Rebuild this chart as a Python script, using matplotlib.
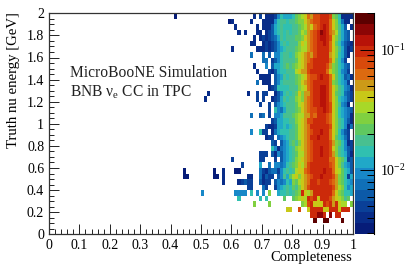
import matplotlib
matplotlib.use('Agg')
import matplotlib.pyplot as plt
import numpy as np
from matplotlib.colors import ListedColormap, LogNorm
from matplotlib.ticker import LogLocator, MultipleLocator, FixedLocator, NullFormatter

plt.rcParams['font.family'] = ['Liberation Serif', 'DejaVu Serif']
plt.rcParams['mathtext.fontset'] = 'stix'
plt.rcParams['mathtext.default'] = 'regular'

# Colour band of each cell. a = lowest band, t = highest.
# One row per energy bin (2.0 GeV at top), groups of ten completeness bins from 0.60 to 1.00
band_rows = [
    ".......b.c .bbbcfhggg hjklmonppq qqpkjhbbbb",
    "b.....b... bbbbfhiihi ijkkmnoppq qqomkhebb.",
    ".b......b. bbbdghihhh iijklnmopq rqomkigd.b",
    "..b.b...bb .bcdghihih iijlknopqs rqonliged.",
    ".......b.b cbcdegihii ijjkmnopqr rqpmkiged.",
    "......bb.. bcbcdfhihi iikmlnopqq rqomjhfdcb",
    "b.......bb bcbcdfghii ijkllnopqq qqomkigdbc",
    "......e... e.d.ffhiih iklmnonpqq qqnmkhgdb.",
    ".......... ee.cdfhiii ijlmnopqqq qqomjhfc..",
    ".......b.. .f.dgghiji jklmnppqqq qpnkjhged.",
    "........b. ..cbdghhii ilmnnpqqqq qomkjhfec.",
    ".........b bbb.dfgihi ijklmoppqr qqomjhgdeb",
    "........e. bbb.dfhiii ijkmnopqqq qqokjhgfc.",
    ".......... ..bcdhhhhi iiklmopqqr rqomkihfeb",
    ".....b..c. cc..bdfhih ijmknnpqqr rqomjihedc",
    "........c. c..bcdgihi iklknopqqr rqomkhgfdc",
    ".........c ..c.dfghii ijlmnopqqr rqpmkifeb.",
    ".......... ..c.hfegii ijkmnoppqq rqpmkhgfed",
    "......e..d e.c.ffgiii jkllnnpoqq qpomkhgfeb",
    ".......... ...cdgghhi iklmnppqqq qpomkihfdb",
    ".......... .cbbcgghgh ijlmnoqqqq qqpmkihfbe",
    "......f..h cc.beghhhi ijlmnopqqr qqomkhfdc.",
    ".......... .bcc.efghi ijlmnoqqrq qqomjhgec.",
    ".......... ...dc.dfgi jikmnopqqq qqpnkjhfbc",
    ".......... ...hfbefgh iklmnopqqr qqpmkihfdc",
    ".........c cc.dbfdfgh ijllnopqqr qqpnkihgdb",
    "c........c c...c.dfgh iklmnopqqq qqoomkjhcd",
    "...c.....g ..e.ffefhi jkmlnpqqqq qqpomkigfd",
    ".aa......e cbdeecfhih ilmmopqqqq rqqomljhgd",
    ".....bb..e bdcc.dfigj lmkmnopqqr qqqpnkjhcg",
    "..bcdcc..d bcc.dfefhg kjlmnoqqpq qqponkjhgf",
    ".....cc... ec..cfghih jikmnpqqqq qqqpnlkhfg",
    ".ffff.h.f. f.k..ghhih ijkqmlnqqq qqqomkjhhg",
    "..h......h .h.....j.. jklmlqpqmq qqpnmlkij.",
    ".......k.. ..k....... ...klpqmmm qpqnqmll.k",
    ".......... ........mm ..p..mqqqq mmqqqmqqq.",
    ".......... .......... ......qqss q.s.qq....",
    ".......... .......... .......t.. tt....t...",
    ".......... .......... .......... ..........",
    ".......... .......... .......... ..........",
]

# Fraction per band, a to t
band_values = [0.00325, 0.00401, 0.00495, 0.00611, 0.00755, 0.00932, 0.0115, 0.0142, 0.0175, 0.0217,
               0.0268, 0.0330, 0.0408, 0.0504, 0.0622, 0.0768, 0.0948, 0.117, 0.145, 0.178]
band_colors = ['#061c78', '#082c88', '#0a4098', '#0c5aa8', '#1070b8', '#1888c8', '#20a8c8', '#30c0b0',
               '#48c090', '#60c860', '#80d040', '#a8d828', '#c8c818', '#cc9a18', '#dc6a10', '#d84a0c',
               '#cc2a0a', '#b81208', '#8c0505', '#5c0000']

# Isolated cells left of 0.60
far_completeness = [0.415, 0.595, 0.515, 0.525, 0.445, 0.445, 0.455, 0.545, 0.545, 0.555, 0.575, 0.575, 0.575, 0.505]
far_energy = [1.975, 1.925, 1.225, 1.275, 0.575, 0.525, 0.525, 0.575, 0.525, 0.525, 0.575, 0.525, 0.475, 0.375]
far_value = [0.00325, 0.00325, 0.00401, 0.00401, 0.00325, 0.00325, 0.00325, 0.00325, 0.00325, 0.00325,
             0.00401, 0.00401, 0.00401, 0.00932]

x_ticks = [0, 0.1, 0.2, 0.3, 0.4, 0.5, 0.6, 0.7, 0.8, 0.9, 1]
x_labels = ['0', '0.1', '0.2', '0.3', '0.4', '0.5', '0.6', '0.7', '0.8', '0.9', '1']
y_ticks = [0, 0.2, 0.4, 0.6, 0.8, 1, 1.2, 1.4, 1.6, 1.8, 2]
y_labels = ['0', '0.2', '0.4', '0.6', '0.8', '1', '1.2', '1.4', '1.6', '1.8', '2']


def build_hist():
    x_edges = np.linspace(0, 1, 101)
    y_edges = np.linspace(0, 2, 41)
    z = np.full((40, 100), np.nan)
    letters = 'abcdefghijklmnopqrst'
    for n, row in enumerate(band_rows):
        cells = row.replace(' ', '')
        for i, c in enumerate(cells):
            if c != '.':
                z[39 - n, 60 + i] = band_values[letters.index(c)]
    for cx, cy, v in zip(far_completeness, far_energy, far_value):
        z[int(cy / 0.05), int(cx / 0.01)] = v
    return x_edges, y_edges, z


def generate_plot():
    W, H = 415, 266
    fig = plt.figure(figsize=(W / 100, H / 100), dpi=100)
    ax = fig.add_axes([49 / W, 1 - 234.3 / H, 304 / W, 221 / H])
    cax = fig.add_axes([354.5 / W, 1 - 234.3 / H, 19.5 / W, 221 / H])

    x_edges, y_edges, z = build_hist()
    cmap = ListedColormap(band_colors)
    norm = LogNorm(vmin=0.00292, vmax=0.2)
    mesh = ax.pcolormesh(x_edges, y_edges, z, cmap=cmap, norm=norm)

    ax.set_xlim(0, 1)
    ax.set_ylim(0, 2)
    ax.set_xticks(x_ticks)
    ax.set_xticklabels(x_labels)
    ax.set_yticks(y_ticks)
    ax.set_yticklabels(y_labels)
    ax.xaxis.set_minor_locator(MultipleLocator(0.02))
    ax.yaxis.set_minor_locator(MultipleLocator(0.05))
    ax.tick_params(which='major', direction='in', length=7, width=0.7, labelsize=10, pad=3.5, color='#222222')
    ax.tick_params(which='minor', direction='in', length=3.5, width=0.7, color='#222222')
    for s in ax.spines.values():
        s.set_linewidth(0.9)
        s.set_color('#333333')

    fig.text(352 / W, 1 - 261.5 / H, 'Completeness', ha='right', va='baseline', fontsize=10.5)
    fig.text(13 / W, 1 - 80 / H, 'Truth nu energy [GeV]', rotation=90, ha='center', va='center', fontsize=10.6)
    ax.text(21 / 304, (234.3 - 73) / 221, 'MicroBooNE Simulation', transform=ax.transAxes,
            ha='left', va='center', fontsize=11.2, color='#222222')
    ax.text(21 / 304, (234.3 - 92) / 221, r'BNB $\nu_e$ CC in TPC', transform=ax.transAxes,
            ha='left', va='center', fontsize=11.2, color='#222222')

    cb = fig.colorbar(mesh, cax=cax)
    cb.outline.set_visible(False)
    cax.spines['right'].set_visible(True)
    cax.spines['right'].set_linewidth(0.8)
    cax.yaxis.set_major_locator(FixedLocator([0.01, 0.1]))
    cax.yaxis.set_major_formatter(plt.FuncFormatter(lambda v, p: r'$10^{%d}$' % round(np.log10(v))))
    cax.yaxis.set_minor_locator(LogLocator(base=10, subs=np.arange(2, 10), numticks=10))
    cax.yaxis.set_minor_formatter(NullFormatter())
    cax.tick_params(which='major', direction='in', length=10, width=0.7, labelsize=10, pad=4, right=True)
    cax.tick_params(which='minor', direction='in', length=5, width=0.7, right=True)

    fig.savefig('out.png', dpi=100)
    plt.close(fig)


if __name__ == '__main__':
    generate_plot()
